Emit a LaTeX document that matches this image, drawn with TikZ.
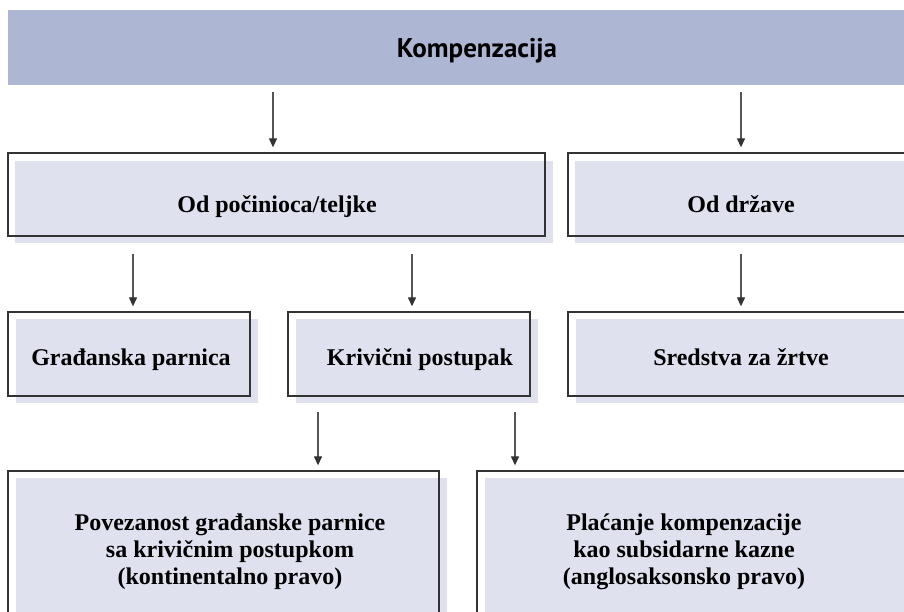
\documentclass[tikz,border=0pt]{standalone}
\usepackage{fontspec}
\setmainfont{Liberation Serif}
\newfontfamily\headfont{PT Sans}
\usetikzlibrary{arrows.meta}
\definecolor{headblue}{HTML}{ADB7D4}
\definecolor{boxfill}{HTML}{DFE1EE}
\definecolor{edge}{HTML}{333333}
\definecolor{stem}{HTML}{555555}
\tikzset{
  x=1pt, y=-1pt,
  frame/.style={draw=edge, line width=1.3pt, inner sep=0pt},
  shade/.style={fill=boxfill, draw=none},
  label/.style={font=\bfseries\fontsize{24}{27}\selectfont, align=center, inner sep=0pt},
  oneline/.style={label, anchor=base},
  arr/.style={draw=stem, line width=1.2pt, shorten <=7pt, shorten >=5pt,
    -{Triangle[width=8pt,length=9pt,color=edge]}},
}
\begin{document}
\begin{tikzpicture}
\useasboundingbox (0,0) rectangle (904,612);
% header band and its title
\fill[headblue] (8,10) rectangle (904,85);
\node[font=\headfont\bfseries\fontsize{27}{30}\selectfont, inner sep=0pt] (H) at (477,51) {Kompenzacija};
\coordinate (hb) at (0,85);

% light fills, offset behind the frames
\fill[shade] (15,161) rectangle (553,243);
\fill[shade] (575,161) rectangle (915,243);
\fill[shade] (16,319) rectangle (258,403);
\fill[shade] (296,319) rectangle (538,403);
\fill[shade] (576,319) rectangle (915,403);
\fill[shade] (16,478) rectangle (447,620);
\fill[shade] (485,478) rectangle (915,620);

% frames
\node[frame, minimum width=537pt, minimum height=83pt] (A) at (276.5,194.5) {};
\node[frame, minimum width=347pt, minimum height=83pt] (B) at (741.5,194.5) {};
\node[frame, minimum width=242pt, minimum height=84pt] (C) at (129,354) {};
\node[frame, minimum width=242pt, minimum height=84pt] (D) at (409,354) {};
\node[frame, minimum width=347pt, minimum height=84pt] (E) at (741.5,354) {};
\node[frame, minimum width=431pt, minimum height=149pt] (F) at (223.5,545.5) {};
\node[frame, minimum width=438pt, minimum height=149pt] (G) at (696,545.5) {};

% texts
\node[oneline] (At) at (277,213) {Od počinioca/teljke};
\node[oneline] (Bt) at (741,213) {Od države};
\node[oneline] (Ct) at (131,365) {Građanska parnica};
\node[oneline] (Dt) at (420,365) {Krivični postupak};
\node[oneline] (Et) at (741,365) {Sredstva za žrtve};
\node[label] (Ft) at (230,552) {Povezanost građanske parnice\\sa krivičnim postupkom\\(kontinentalno pravo)};
\node[label] (Gt) at (684,552) {Plaćanje kompenzacije\\kao subsidarne kazne\\(anglosaksonsko pravo)};

% arrow columns
\coordinate (xa) at (273,0);
\coordinate (xb) at (741,0);
\coordinate (xc) at (133,0);
\coordinate (xd) at (412,0);
\coordinate (xf) at (318,0);
\coordinate (xg) at (515,0);
\coordinate (r2) at (0,247);
\coordinate (r3) at (0,405);

\draw[arr] (hb -| xa) -- (A.north -| xa);
\draw[arr] (hb -| xb) -- (B.north -| xb);
\draw[arr] (r2 -| xc) -- (C.north -| xc);
\draw[arr] (r2 -| xd) -- (D.north -| xd);
\draw[arr] (r2 -| xb) -- (E.north -| xb);
\draw[arr] (r3 -| xf) -- (F.north -| xf);
\draw[arr] (r3 -| xg) -- (G.north -| xg);
\end{tikzpicture}
\end{document}
